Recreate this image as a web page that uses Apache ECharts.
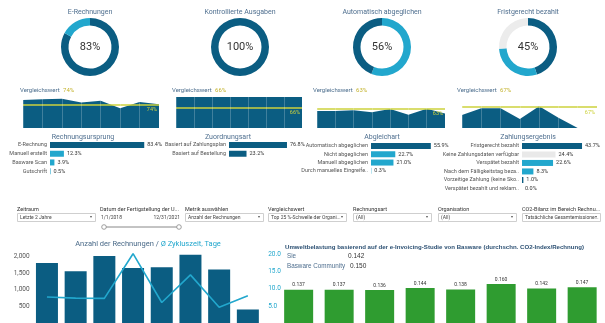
<!DOCTYPE html>
<html><head><meta charset="utf-8">
<script src="https://cdn.jsdelivr.net/npm/echarts@6/dist/echarts.min.js"></script>
<style>html,body{margin:0;padding:0;background:#fff}#c{width:605px;height:323px}</style>
</head><body><div id="c"></div>
<script>
// ---------- data ----------
const donutTitles = ['E-Rechnungen', 'Kontrollierte Ausgaben', 'Automatisch abgeglichen', 'Fristgerecht bezahlt'];
const donutLabels = ['83%', '100%', '56%', '45%'];
const donutERechnung = [83, 17];
const donutKontrolliert = [100];
const donutAutomatisch = [56, 44];
const donutFristgerecht = [45, 29, 26];

const periods = ['1', '2', '3', '4', '5', '6', '7', '8'];
const trendERechnung = [90, 93, 94, 82, 88, 64, 84, 77];
const trendKontrolliert = [100, 100, 100, 100, 100, 100, 100, 100];
const trendAutomatisch = [55, 55, 57, 51, 61, 43, 62, 47];
const trendFristgerecht = [42, 64, 64, 29, 70, 33, 0, 0];
const benchmarks = [74, 66, 63, 67];

const originCats = ['E-Rechnung', 'Manuell erstellt', 'Basware Scan', 'Gutschrift'];
const originVals = [83.4, 12.3, 3.9, 0.5];
const assignCats = ['Basiert auf Zahlungsplan', 'Basiert auf Bestellung'];
const assignVals = [76.8, 23.2];
const matchCats = ['Automatisch abgeglichen', 'Nicht abgeglichen', 'Manuell abgeglichen', 'Durch manuelles Eingreife..'];
const matchVals = [55.9, 22.7, 21.0, 0.3];
const payCats = ['Fristgerecht bezahlt', 'Keine Zahlungsdaten verfügbar', 'Verspätet bezahlt', 'Nach dem Fälligkeitstag beza..', 'Vorzeitige Zahlung (keine Sko..', 'Verspätet bezahlt und reklam..'];
const payVals = [43.7, 24.4, 22.6, 8.3, 1.0, 0.0];
const barTitles = ['Rechnungsursprung', 'Zuordnungsart', 'Abgleichart', 'Zahlungsergebnis'];

const invoiceCounts = [1800, 1550, 2010, 1650, 1670, 2045, 1600, 405];
const cycleDays = [7.6, 7.3, 7.2, 20.3, 6.0, 14.1, 4.6, 8.0];
const co2Index = [0.137, 0.137, 0.136, 0.144, 0.138, 0.160, 0.142, 0.147];
const co2Summary = [['Sie', '0.142'], ['Basware Community', '0.150']];

const filterLabels = ['Zeitraum', 'Datum der Fertigstellung der U...', 'Metrik auswählen', 'Vergleichswert', 'Rechnungsart', 'Organisation', 'CO2-Bilanz im Bereich Rechnu...'];
const filterValues = ['Letzte 2 Jahre', null, 'Anzahl der Rechnungen', 'Top 25 %-Schwelle der Organi...', '(All)', '(All)', 'Tatsächliche Gesamtemissione...'];
const dateRange = ['1/1/2018', '12/31/2021'];

// ---------- styles / layout ----------
const DARK = '#0b5d82', LIGHT = '#22a7cd', PALE = '#ececec', YEL = '#cdd23c', GREEN = '#2f9c30';
const FONT = 'Roboto';
const ARIAL = 'Liberation Sans';
const TITLE_C = '#4f6f8f';

const chart = echarts.init(document.getElementById('c'), null, {renderer: 'canvas'});

const grids = [], xAxes = [], yAxes = [], series = [], graphic = [];

function txt(x, y, text, o) {
  o = o || {};
  graphic.push({type: 'text', x: x, y: y, silent: true, z: 100,
    style: Object.assign({text: text, fontFamily: FONT, fontSize: 7, fill: '#333',
      textAlign: 'left', textVerticalAlign: 'middle'}, o)});
}

// donuts
const donutData = [donutERechnung, donutKontrolliert, donutAutomatisch, donutFristgerecht];
const donutColors = [[DARK, LIGHT], [DARK], [LIGHT, DARK], [DARK, LIGHT, PALE]];
const donutCx = [90, 240, 382, 528];
donutData.forEach((d, i) => {
  series.push({type: 'pie', radius: [21.5, 29], center: [donutCx[i], 47], startAngle: 90,
    silent: true, label: {show: false}, labelLine: {show: false}, animation: false,
    data: d.map((v, j) => ({value: v, itemStyle: {color: donutColors[i][j]}}))});
  txt(donutCx[i], 12, donutTitles[i], {textAlign: 'center', fontSize: 7, fill: TITLE_C});
  txt(donutCx[i], 47, donutLabels[i], {textAlign: 'center', fontSize: 11, fill: '#333'});
});

// trend areas
const trends = [trendERechnung, trendKontrolliert, trendAutomatisch, trendFristgerecht];
const areaBox = [[23, 136], [176, 126], [317, 128], [462, 135]];
const areaLabelX = [20, 172, 313, 457];
trends.forEach((t, i) => {
  const gi = grids.length;
  grids.push({left: areaBox[i][0], top: 97, width: areaBox[i][1], height: 31});
  xAxes.push({type: 'category', gridIndex: gi, data: periods, boundaryGap: false, z: 10,
    axisLine: {show: false}, axisTick: {show: false}, axisLabel: {show: false},
    splitLine: {show: true, lineStyle: {color: 'rgba(255,255,255,0.22)', width: 1}}});
  yAxes.push({type: 'value', gridIndex: gi, min: 0, max: 100, show: false});
  series.push({type: 'line', xAxisIndex: gi, yAxisIndex: gi, data: t, symbol: 'none',
    lineStyle: {width: 0}, areaStyle: {color: DARK, opacity: 1}, animation: false,
    markLine: {symbol: 'none', silent: true, animation: false, data: [{yAxis: benchmarks[i]}],
      lineStyle: {color: YEL, width: 1.5, type: 'solid'},
      label: {position: 'insideEndBottom', formatter: benchmarks[i] + '%', color: YEL,
        fontSize: 5.5, fontFamily: FONT, distance: 2}}});
  graphic.push({type: 'text', x: areaLabelX[i], y: 90, silent: true, z: 100,
    style: {text: '{a|Vergleichswert} {b|' + benchmarks[i] + '%}', textVerticalAlign: 'middle',
      rich: {a: {fontFamily: FONT, fontSize: 6, fill: '#4a6c8c', color: '#4a6c8c'},
             b: {fontFamily: FONT, fontSize: 6, fill: '#c4b32e', color: '#c4b32e'}}}});
});

// horizontal bar panels
const barPanels = [
  {cats: originCats, vals: originVals, colors: [DARK, LIGHT, LIGHT, LIGHT], left: 50, width: 113, max: 100, top: 140.7, row: 8.7, tx: 83},
  {cats: assignCats, vals: assignVals, colors: [DARK, DARK], left: 229, width: 75.5, max: 100, top: 140.7, row: 8.7, tx: 228},
  {cats: matchCats, vals: matchVals, colors: [DARK, LIGHT, LIGHT, LIGHT], left: 371, width: 107, max: 100, top: 141.8, row: 8.3, tx: 382},
  {cats: payCats, vals: payVals, colors: [DARK, '#e9e9e9', LIGHT, LIGHT, DARK, LIGHT], left: 522, width: 75, max: 54.6, top: 141.7, row: 8.5, tx: 528}
];
barPanels.forEach((p, i) => {
  const gi = grids.length;
  grids.push({left: p.left, top: p.top, width: p.width, height: p.row * p.cats.length});
  xAxes.push({type: 'value', gridIndex: gi, min: 0, max: p.max, show: false});
  yAxes.push({type: 'category', gridIndex: gi, data: p.cats, inverse: true,
    axisLine: {show: false}, axisTick: {show: false}, splitLine: {show: false},
    axisLabel: {interval: 0, fontSize: 5.5, color: '#555', margin: 3, fontFamily: FONT}});
  series.push({type: 'bar', xAxisIndex: gi, yAxisIndex: gi, barWidth: 6, animation: false,
    data: p.vals.map((v, j) => ({value: v, itemStyle: {color: p.colors[j]}})),
    label: {show: true, position: 'right', distance: 3, fontSize: 5.5, color: '#333', fontFamily: FONT,
      formatter: o => o.value.toFixed(1) + '%'}});
  txt(p.tx, 137, barTitles[i], {textAlign: 'center', fontSize: 7, fill: TITLE_C});
});

// filter bar
const filterX = [17, 100, 185, 268, 353, 438, 522];
filterLabels.forEach((l, i) => {
  txt(filterX[i], 210, l, {fontSize: 5.5, fill: '#333'});
  if (filterValues[i] !== null) {
    graphic.push({type: 'rect', silent: true, z: 90, shape: {x: filterX[i] + 0.5, y: 213.5, width: 78, height: 8},
      style: {fill: '#fff', stroke: '#cfcfcf', lineWidth: 1}});
    txt(filterX[i] + 3, 217.5, filterValues[i], {fontSize: 5, fill: '#444'});
    txt(filterX[i] + 74, 217.5, '▼', {fontSize: 3.5, fill: '#555', textAlign: 'center'});
  }
});
txt(filterX[1] + 1, 217.5, dateRange[0], {fontSize: 5, fill: '#444'});
txt(filterX[1] + 80, 217.5, dateRange[1], {fontSize: 5, fill: '#444', textAlign: 'right'});
graphic.push({type: 'line', silent: true, z: 90, shape: {x1: 104, y1: 227, x2: 179, y2: 227}, style: {stroke: '#888', lineWidth: 1}});
[104, 179].forEach(cx => graphic.push({type: 'circle', silent: true, z: 91, shape: {cx: cx, cy: 227, r: 2.3},
  style: {fill: '#fff', stroke: '#888', lineWidth: 0.8}}));

// bottom-left combo chart
{
  const gi = grids.length;
  grids.push({left: 32.6, top: 249.6, width: 229.6, height: 80.9});
  xAxes.push({type: 'category', gridIndex: gi, data: periods, show: false});
  yAxes.push({type: 'value', gridIndex: gi, min: 0, max: 2200, interval: 500,
    axisLine: {show: false}, axisTick: {show: false}, splitLine: {show: false},
    axisLabel: {showMaxLabel: false, showMinLabel: false, fontSize: 6.5, color: '#555', margin: 3, fontFamily: FONT,
      formatter: v => v.toLocaleString('en-US')}});
  const gi2 = yAxes.length;
  yAxes.push({type: 'value', gridIndex: gi, position: 'right', min: 0, max: 21.5, interval: 5,
    axisLine: {show: false}, axisTick: {show: false}, splitLine: {show: false},
    axisLabel: {showMaxLabel: false, showMinLabel: false, fontSize: 6.5, color: LIGHT, margin: 6, fontFamily: FONT,
      formatter: v => v.toFixed(1)}});
  series.push({type: 'bar', xAxisIndex: gi, yAxisIndex: gi, data: invoiceCounts, barWidth: 22,
    itemStyle: {color: DARK}, animation: false});
  series.push({type: 'line', xAxisIndex: gi, yAxisIndex: gi2, data: cycleDays, symbol: 'none',
    lineStyle: {color: LIGHT, width: 1.6}, z: 5, animation: false});
  graphic.push({type: 'text', x: 148, y: 244, silent: true, z: 100,
    style: {text: '{a|Anzahl der Rechnungen / }{b|Ø Zykluszeit, Tage}', textAlign: 'center', textVerticalAlign: 'middle',
      rich: {a: {fontFamily: FONT, fontSize: 7.5, fill: '#4a6a88', color: '#4a6a88'},
             b: {fontFamily: FONT, fontSize: 7.5, fill: LIGHT, color: LIGHT}}}});
}

// bottom-right CO2 chart
{
  const gi = grids.length;
  grids.push({left: 278.4, top: 274.4, width: 324, height: 49.6});
  xAxes.push({type: 'category', gridIndex: gi, data: periods, show: false});
  yAxes.push({type: 'value', gridIndex: gi, min: 0, max: 0.2, show: false});
  series.push({type: 'bar', xAxisIndex: gi, yAxisIndex: yAxes.length - 1, data: co2Index, barWidth: 29,
    itemStyle: {color: GREEN}, animation: false,
    label: {show: true, position: 'top', distance: 2, fontSize: 5, color: '#333', fontFamily: FONT,
      formatter: o => o.value.toFixed(3)}});
  txt(285, 247.7, 'Umweltbelastung basierend auf der e-Invoicing-Studie von Basware (durchschn. CO2-Index/Rechnung)',
    {fontSize: 6.1, fontWeight: 'bold', fontFamily: ARIAL, fill: '#2c5073'});
  co2Summary.forEach((r, i) => {
    txt(287, 256.7 + i * 9.3, r[0], {fontSize: 6.3, fontFamily: ARIAL, fill: '#4f6f8f'});
    txt(348 + i * 2, 256.7 + i * 9.3, r[1], {fontSize: 6.5, fontFamily: ARIAL, fill: '#333'});
  });
}

chart.setOption({
  animation: false,
  textStyle: {fontFamily: FONT},
  grid: grids, xAxis: xAxes, yAxis: yAxes, series: series, graphic: graphic
});
</script></body></html>
